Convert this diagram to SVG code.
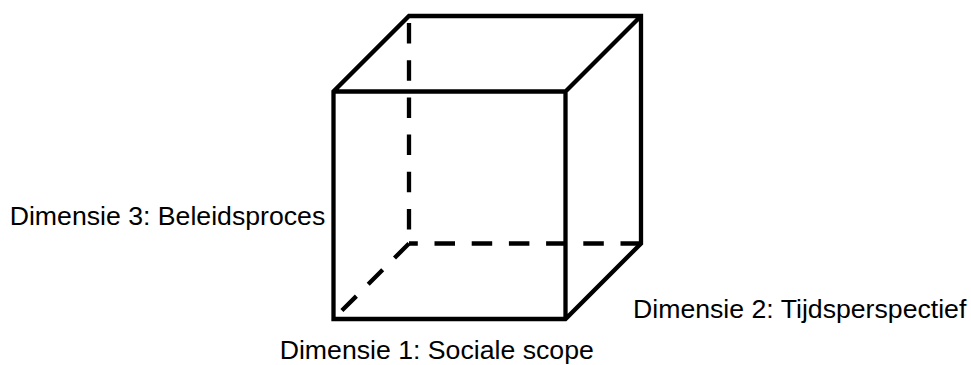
<svg xmlns="http://www.w3.org/2000/svg" width="971" height="365" viewBox="0 0 971 365">
<style>
.edge{fill:none;stroke:#000;stroke-width:4.3;stroke-linejoin:miter}
.dash{fill:none;stroke:#000;stroke-width:4.3;stroke-dasharray:20.5 16.7}
.lbl{font-family:"Liberation Sans",Arial,sans-serif;font-size:26.67px;fill:#000}
</style>
<rect width="971" height="365" fill="#fff"/>
<g id="connectors">
<line class="dash" x1="409" y1="23" x2="409" y2="243.5"/>
<line class="dash" x1="641" y1="243.5" x2="409" y2="243.5"/>
<line class="dash" x1="409" y1="243.5" x2="336" y2="316.5"/>
</g>
<g id="cube">
<path class="edge" d="M333.5,319 V91.5 L409,16 H641 V243.5 L565.5,319 Z M333.5,91.5 H565.5 V319 M565.5,91.5 L641,16"/>
</g>
<g id="dim3"><text class="lbl" x="9.7" y="225">Dimensie 3: Beleidsproces</text></g>
<g id="dim1"><text class="lbl" x="279.7" y="359">Dimensie 1: Sociale scope</text></g>
<g id="dim2"><text class="lbl" x="633" y="317.5">Dimensie 2: Tijdsperspectief</text></g>
</svg>
